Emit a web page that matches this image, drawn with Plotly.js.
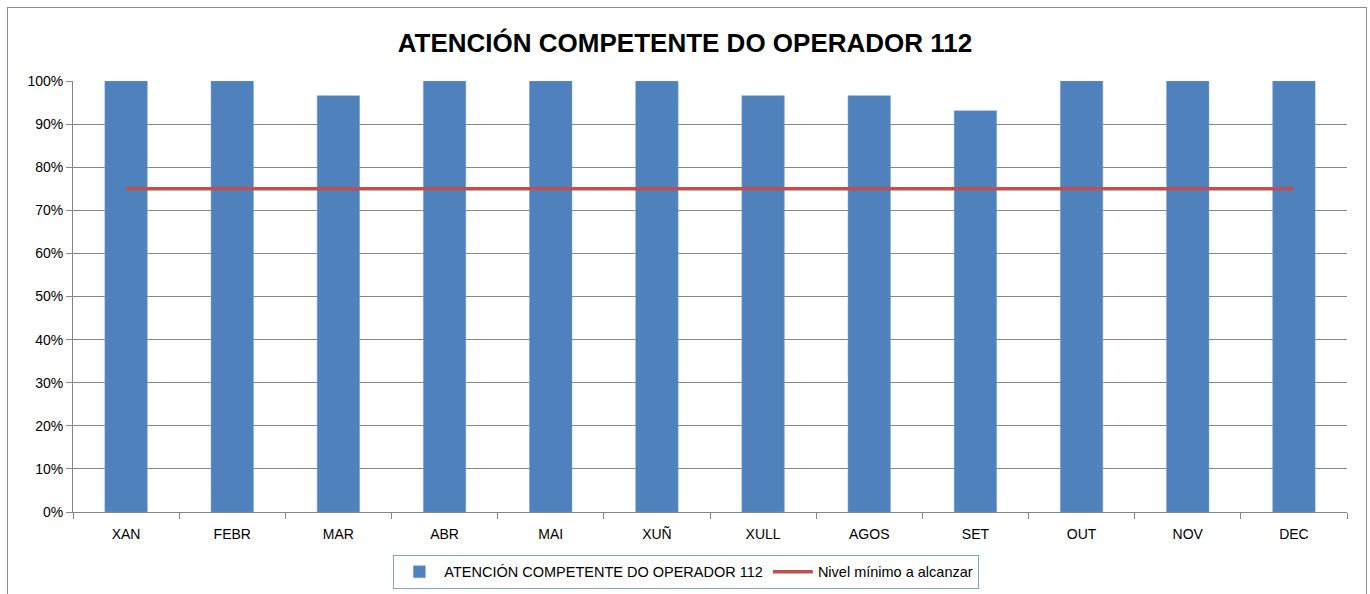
<!DOCTYPE html>
<html>
<head>
<meta charset="utf-8">
<script src="https://cdn.plot.ly/plotly-3.0.1.min.js"></script>
<style>
html,body{margin:0;padding:0;background:#fff;}
#wrap{position:relative;width:1370px;height:594px;overflow:hidden;}
#chart{width:1370px;height:594px;}
#frame{position:absolute;left:7px;top:7px;width:1358px;height:600px;border:1px solid #8c8c8c;pointer-events:none;}
</style>
</head>
<body>
<div id="wrap"><div id="chart"></div><div id="frame"></div></div>
<script>
var months = ["XAN","FEBR","MAR","ABR","MAI","XUÑ","XULL","AGOS","SET","OUT","NOV","DEC"];
var atencion = [1.0, 1.0, 0.966, 1.0, 1.0, 1.0, 0.966, 0.966, 0.931, 1.0, 1.0, 1.0];
var nivelMinimo = [0.75,0.75,0.75,0.75,0.75,0.75,0.75,0.75,0.75,0.75,0.75,0.75];
var yTicks = [0,0.1,0.2,0.3,0.4,0.5,0.6,0.7,0.8,0.9,1.0];
var yTickLabels = ["0%","10%","20%","30%","40%","50%","60%","70%","80%","90%","100%"];

var fontFam = "Liberation Sans, Arial, sans-serif";
var traces = [
  {type:"bar", x:months, y:atencion, name:"ATENCIÓN COMPETENTE DO OPERADOR 112",
   marker:{color:"#4f81bd", line:{color:"#7fa3d1", width:0.5}}, width:0.4},
  {type:"scatter", mode:"lines", x:months, y:nivelMinimo, name:"Nivel mínimo a alcanzar",
   line:{color:"#c0504d", width:3.5}}
];
var layout = {
  width:1370, height:594,
  margin:{l:73, r:23, t:81, b:82, autoexpand:false},
  paper_bgcolor:"#fff", plot_bgcolor:"#fff",
  font:{family:fontFam, size:14, color:"#000"},
  title:{text:"<b>ATENCIÓN COMPETENTE DO OPERADOR 112</b>", font:{family:fontFam, size:26, color:"#000"},
         x:0.5, xref:"container", xanchor:"center", y:0.927, yref:"container", yanchor:"middle"},
  showlegend:true,
  legend:{orientation:"h", x:0.501, xref:"container", xanchor:"center", y:0.066, yref:"container", yanchor:"top",
          bordercolor:"#7fa3d1", borderwidth:1, font:{family:fontFam, size:14.5, color:"#000"},
          traceorder:"normal", itemwidth:40},
  bargap:0.6,
  xaxis:{type:"category", showline:true, linecolor:"#868686", linewidth:1,
         ticks:"outside", tickson:"boundaries", ticklen:6, tickcolor:"#868686", ticklabelstandoff:9,
         showgrid:false, tickfont:{size:14, color:"#000"}, fixedrange:true},
  yaxis:{range:[0,1.0], tickvals:yTicks, ticktext:yTickLabels, showgrid:true, gridcolor:"#868686", gridwidth:1,
         showline:true, linecolor:"#868686", linewidth:1, ticks:"outside", ticklen:6, tickcolor:"#868686",
         zeroline:false, tickfont:{size:14, color:"#000"}, fixedrange:true}
};
Plotly.newPlot("chart", traces, layout, {displayModeBar:false, staticPlot:true});
</script>
</body>
</html>
